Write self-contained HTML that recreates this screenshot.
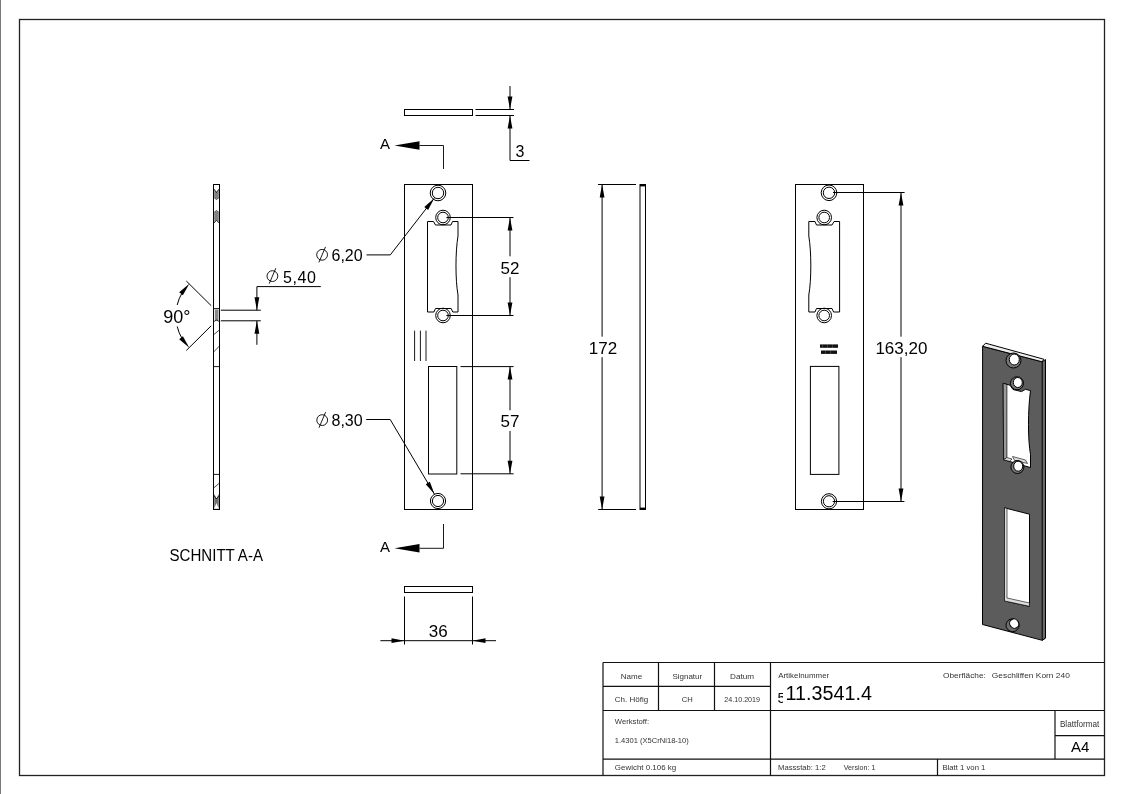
<!DOCTYPE html>
<html><head><meta charset="utf-8"><style>
html,body{margin:0;padding:0;background:#fff;width:1123px;height:794px;overflow:hidden}
svg{display:block;will-change:transform}
text{font-family:"Liberation Sans",sans-serif;fill:#000}
</style></head><body>
<svg width="1123" height="794" viewBox="0 0 1123 794">
<defs>
<path id="arr" d="M0,0 L-13,-2.4 L-13,2.4 Z" fill="#000"/>
</defs>
<rect x="0" y="0" width="1123" height="794" fill="#fff"/>
<line x1="0.5" y1="0" x2="0.5" y2="794" stroke="#7a7a7a" stroke-width="1"/>
<rect x="19.5" y="19.5" width="1085" height="756" fill="none" stroke="#222" stroke-width="1.3"/>

<!-- ========== top view bar + dim 3 ========== -->
<g fill="none" stroke="#000" stroke-width="1">
<rect x="404.5" y="109.5" width="68" height="6"/>
</g>
<g fill="none" stroke="#000" stroke-width="1">
<path d="M475.5,109.5H514M475.5,115.5H514M510,86V109.5M510,115.5V160.5H529.5"/>
</g>
<use href="#arr" transform="translate(510,109.5) rotate(90)"/>
<use href="#arr" transform="translate(510,115.5) rotate(-90)"/>
<text x="515.5" y="156.8" font-size="16">3</text>

<!-- section arrow top -->
<text x="380" y="148.5" font-size="15">A</text>
<path d="M394.5,145.5 L419.5,141.3 L419.5,149.7 Z" fill="#000"/>
<path d="M419.5,145.5H443.5V169" fill="none" stroke="#000" stroke-width="0.9"/>
<!-- section arrow bottom -->
<text x="380" y="551.8" font-size="15">A</text>
<path d="M394.5,548.3 L419.5,544.1 L419.5,552.5 Z" fill="#000"/>
<path d="M419.5,548.3H443.5V524" fill="none" stroke="#000" stroke-width="0.9"/>

<!-- ========== front view ========== -->
<g fill="none" stroke="#000" stroke-width="1">
<rect x="404.5" y="184.5" width="68" height="325"/>
<circle cx="438" cy="193" r="7.8"/><circle cx="438" cy="193" r="5.7"/>
<circle cx="443" cy="217.5" r="7.3"/><circle cx="443" cy="217.5" r="5.3"/>
<circle cx="443" cy="315.5" r="7.3"/><circle cx="443" cy="315.5" r="5.3"/>
<circle cx="438" cy="501" r="7.6"/><circle cx="438" cy="501" r="5.6"/>
<path d="M427.5,221.5H433.5L435.5,225H451L452.5,221.5H458V236C455.3,252 455.3,280 458,295V312H452.8L451.2,308.5H435.5L433.9,312H427.5Z"/>
<rect x="428.5" y="366.5" width="28.3" height="107.5"/>
<path d="M414.6,330.6V361M420.4,330.6V361M426,330.6V361" stroke-width="0.9"/>
</g>
<!-- dims front -->
<g fill="none" stroke="#000" stroke-width="1">
<path d="M446.4,217.5H513.5M446.4,315.5H513.5M510,217.5V256.3M510,277.2V315.5"/>
<path d="M460.5,366.6H513.6M460.5,473.8H513.6M510,366.6V410.3M510,431V473.8"/>
</g>
<use href="#arr" transform="translate(510,217.5) rotate(-90)"/>
<use href="#arr" transform="translate(510,315.5) rotate(90)"/>
<use href="#arr" transform="translate(510,366.6) rotate(-90)"/>
<use href="#arr" transform="translate(510,473.8) rotate(90)"/>
<text x="510" y="273.5" font-size="17" text-anchor="middle">52</text>
<text x="510" y="427.3" font-size="17" text-anchor="middle">57</text>

<!-- leaders -->
<g fill="none" stroke="#000" stroke-width="1">
<path d="M366.5,254.9H390.3L434.2,198.3"/>
<path d="M366.2,419.5H390.2L434.4,494.1"/>
<path d="M256.9,344.8V320.8M256.9,310.2V286.6H320.8"/>
<path d="M220.8,310.2H260.8M220.8,320.8H260.8"/>
</g>
<use href="#arr" transform="translate(434.2,198.3) rotate(-52.2)"/>
<use href="#arr" transform="translate(434.4,494.1) rotate(59.4)"/>
<use href="#arr" transform="translate(256.9,310.2) rotate(90)"/>
<use href="#arr" transform="translate(256.9,320.8) rotate(-90)"/>
<g fill="none" stroke="#000" stroke-width="0.9"><circle cx="322.1" cy="254.8" r="5.4"/><path d="M318.9,262.4L325.5,246.9"/></g>
<text x="331.5" y="261" font-size="16">6,20</text>
<g fill="none" stroke="#000" stroke-width="0.9"><circle cx="272.4" cy="276.1" r="5.4"/><path d="M269.2,283.7L275.8,268.2"/></g>
<text x="283" y="282.5" font-size="16" textLength="33" lengthAdjust="spacing">5,40</text>
<g fill="none" stroke="#000" stroke-width="0.9"><circle cx="322.2" cy="420.1" r="5.4"/><path d="M319.0,427.7L325.6,412.2"/></g>
<text x="331.5" y="426" font-size="16">8,30</text>

<!-- 90 deg -->
<g fill="none" stroke="#000" stroke-width="1">
<path d="M211.2,305.7L186.3,281M211.2,325.8L186.3,350.5"/>
<path d="M182,293A45.4,45.4 0 0 0 177.2,305M177.2,326.5A45.4,45.4 0 0 0 182,338.5"/>
</g>
<use href="#arr" transform="translate(189.3,283.8) rotate(-50.5)"/>
<use href="#arr" transform="translate(189.3,347.7) rotate(50.5)"/>
<text x="163.3" y="323" font-size="18">90°</text>

<!-- section strip -->
<g fill="#808080" stroke="none">
<path d="M214.2,189.5L216.5,192L218.8,189.5V197L216.5,199L214.2,197Z"/>
<path d="M214.2,213L216.5,211L218.8,213V222.5L216.5,220.5L214.2,222.5Z"/>
<path d="M214.2,494L216.5,498.5L218.8,494V508.5H214.2Z" fill="#707070"/>
<path d="M214.8,309.5H218.5V321H214.8Z" fill="#8a8a8a"/>
</g>
<path d="M214.2,508.5L216.5,503L218.8,508.5Z" fill="#fff"/>
<g fill="none" stroke="#000" stroke-width="1">
<rect x="213.5" y="184.5" width="6" height="325"/>
<path d="M213.5,474.4H219.5M213.5,366.6H219.5M213.5,308.6H219.5" stroke-width="0.9"/>
</g>
<g fill="none" stroke="#000" stroke-width="0.7">
<path d="M214,189L216.5,192.5L219,189M214,197.5L216.5,199.5L219,197.5M214,212.5L216.5,210.5L219,212.5M214,223L216.5,220.5L219,223"/>
<path d="M213.6,334.8L219.6,329.8M213.6,352L219.6,345.9M213.6,495L216.5,499L219.6,495M213.6,488L219.6,483"/>
<path d="M214,321.5L216.5,320L219,321.5"/>
</g>
<text x="169.5" y="560.8" font-size="16" textLength="93.5" lengthAdjust="spacingAndGlyphs">SCHNITT A-A</text>

<!-- bottom bar + dim 36 -->
<g fill="none" stroke="#000" stroke-width="1">
<rect x="404.5" y="586.5" width="68" height="6"/>
</g>
<g fill="none" stroke="#000" stroke-width="1">
<path d="M404.5,596.5V644.5M472.5,596.5V644.5M380.4,640.7H496"/>
</g>
<use href="#arr" transform="translate(404.5,640.7)"/>
<use href="#arr" transform="translate(472.5,640.7) rotate(180)"/>
<text x="438.2" y="637" font-size="17" text-anchor="middle">36</text>

<!-- ========== side view ========== -->
<g fill="none" stroke="#000" stroke-width="1">
<rect x="640" y="184.5" width="5.5" height="325"/>
</g>
<g fill="none" stroke="#000" stroke-width="1">
<path d="M598,184.5H636M598.2,509.5H636M602.1,184.5V336.7M602.1,357.2V509.5"/>
</g>
<use href="#arr" transform="translate(602.1,184.5) rotate(-90)"/>
<use href="#arr" transform="translate(602.1,509.5) rotate(90)"/>
<text x="603" y="354" font-size="17" text-anchor="middle">172</text>

<rect x="640" y="184" width="5.5" height="2.4" fill="#000"/><rect x="640" y="507.6" width="5.5" height="2.4" fill="#000"/>
<!-- ========== right view ========== -->
<g fill="none" stroke="#000" stroke-width="1">
<rect x="795.5" y="184.5" width="68" height="325"/>
<circle cx="829" cy="192.8" r="7.8"/><circle cx="829" cy="192.8" r="5.7"/>
<circle cx="824.2" cy="217.5" r="7.3"/><circle cx="824.2" cy="217.5" r="5.3"/>
<circle cx="824.2" cy="315.5" r="7.3"/><circle cx="824.2" cy="315.5" r="5.3"/>
<circle cx="829" cy="501.3" r="7.6"/><circle cx="829" cy="501.3" r="5.6"/>
<path d="M839.6,221.5H834L832,225H816.5L815,221.5H808.8V236C811.5,252 811.5,280 808.8,295V312H815L816.5,308.5H832L833.6,312H839.6Z"/>
<rect x="810.4" y="366.4" width="28.5" height="108"/>
</g>
<g fill="none" stroke="#000" stroke-width="1">
<path d="M833,192.5H904.6M832.7,501.5H904.4M901,192.5V336.7M901,357.2V501.5"/>
</g>
<use href="#arr" transform="translate(901,192.5) rotate(-90)"/>
<use href="#arr" transform="translate(901,501.5) rotate(90)"/>
<text x="901.4" y="354" font-size="17" text-anchor="middle">163,20</text>
<g fill="#111"><rect x="820" y="344.4" width="18" height="3.4"/><rect x="821" y="350.5" width="16" height="3.4"/></g><g fill="#fff" opacity="0.35"><rect x="822.3" y="344.4" width="0.5" height="3.4"/><rect x="827" y="344.4" width="0.5" height="3.4"/><rect x="832.5" y="344.4" width="0.5" height="3.4"/><rect x="825" y="350.5" width="0.5" height="3.4"/><rect x="830" y="350.5" width="0.5" height="3.4"/></g>

<!-- ========== isometric ========== -->
<g stroke="#000" stroke-width="1" stroke-linejoin="round">
<path d="M982.6,346.3L1042.2,361.8L1045.5,361L1045.5,638L1042.2,640.3L982.5,624.5Z" fill="#5c5c5c"/>
<path d="M982.6,346.3L985.6,343.2L1043.7,359.2L1042.2,361.8Z" fill="#eee"/>
<path d="M1042.2,361.8L1045.5,359.5L1045.5,638L1042.2,640.3Z" fill="#6a6a6a"/>
<ellipse cx="1013.5" cy="360.5" rx="7.5" ry="7.5" fill="#777"/>
<ellipse cx="1014.3" cy="359.5" rx="5" ry="5.5" fill="#fff"/>
<ellipse cx="1017" cy="383.3" rx="6.5" ry="6.5" fill="#777"/>
<ellipse cx="1017.8" cy="382.5" rx="4.5" ry="5" fill="#fff"/>
<path d="M1003.2,383.2L1010,385.2L1013,389.5L1021.5,391.6L1025.4,389.3L1030.5,390.6C1027.8,410 1027.8,440 1030.5,454.4L1030.5,467.6L1003.6,459.7Z" fill="#fff"/>
<path d="M1003.2,383.2L1006.9,384.5L1006.9,457.6L1003.6,459.7Z" fill="#9a9a9a" stroke-width="0.7"/>
<path d="M1003.6,459.7L1006.9,457.6L1012,459L1009.5,461.3Z" fill="#ddd" stroke-width="0.6"/>
<path d="M1012.5,456.5L1025.5,460L1027.5,463.5L1014.5,460.3Z" fill="#ddd" stroke-width="0.6"/>
<ellipse cx="1017.4" cy="467" rx="6.5" ry="6.5" fill="#777"/>
<ellipse cx="1018.2" cy="466.2" rx="4.5" ry="5" fill="#fff"/>
<path d="M1004.5,507.8L1029.5,514.2L1029.5,606.3L1004.5,600.9Z" fill="#fff"/>
<path d="M1004.5,507.8L1007,508.4L1007,598L1029.5,603L1029.5,606.3L1004.5,600.9Z" fill="#ddd" stroke-width="0.6"/>
<ellipse cx="1012.6" cy="625.2" rx="6.6" ry="6.4" fill="#6e6e6e"/>
<ellipse cx="1014.2" cy="623.6" rx="4.4" ry="4.8" fill="#fff" transform="rotate(-30 1014.2 623.6)"/>
</g>

<!-- ========== title block ========== -->
<g fill="none" stroke="#111" stroke-width="1.2">
<path d="M603,662.5H1104.5M603,662.5V775.5M658.5,662.5V710.5M714.5,662.5V710.5M770.5,662.5V775.5M603,686.3H770.5M603,710.5H1104.5M603,759.2H1104.5M1055,710.5V759.2M1055,735.6H1104.5M937.5,759.2V775.5"/>
</g>
<g font-size="8" fill="#333" style="fill:#333">
<text x="631.5" y="679" text-anchor="middle" style="fill:#333">Name</text>
<text x="687.3" y="679" text-anchor="middle" style="fill:#333">Signatur</text>
<text x="742" y="678.5" text-anchor="middle" textLength="24" lengthAdjust="spacingAndGlyphs" style="fill:#333">Datum</text>
<text x="631.5" y="702" text-anchor="middle" style="fill:#333">Ch. Höfig</text>
<text x="687.3" y="702" text-anchor="middle" textLength="11" lengthAdjust="spacingAndGlyphs" style="fill:#333">CH</text>
<text x="724.3" y="702" textLength="35.7" lengthAdjust="spacingAndGlyphs" style="fill:#333">24.10.2019</text>
<text x="778.2" y="678" textLength="51" lengthAdjust="spacingAndGlyphs" style="fill:#333">Artikelnummer</text>
<text x="943" y="678" textLength="42.8" lengthAdjust="spacingAndGlyphs" style="fill:#333">Oberfläche:</text>
<text x="991.8" y="678" textLength="78" lengthAdjust="spacingAndGlyphs" style="fill:#333">Geschliffen Korn 240</text>
<text x="614.8" y="724" textLength="34.3" lengthAdjust="spacingAndGlyphs" style="fill:#333">Werkstoff:</text>
<text x="614.8" y="742.5" textLength="74" lengthAdjust="spacingAndGlyphs" style="fill:#333">1.4301 (X5CrNi18-10)</text>
<text x="614.8" y="769.5" textLength="61.4" lengthAdjust="spacingAndGlyphs" style="fill:#333">Gewicht 0.106 kg</text>
<text x="778.1" y="770.3" textLength="47.6" lengthAdjust="spacingAndGlyphs" style="fill:#333">Massstab: 1:2</text>
<text x="843.7" y="770.3" textLength="31.7" lengthAdjust="spacingAndGlyphs" style="fill:#333">Version: 1</text>
<text x="942.4" y="770.3" textLength="43" lengthAdjust="spacingAndGlyphs" style="fill:#333">Blatt 1 von 1</text>
<text x="1059.9" y="726.8" font-size="8.5" textLength="39.4" lengthAdjust="spacingAndGlyphs" style="fill:#333">Blattformat</text>
</g>
<text x="777.5" y="702.6" font-size="14.5">5</text>
<rect x="783" y="683" width="92" height="21" fill="#fff"/>
<text x="785.6" y="700" font-size="19.5" textLength="86.3" lengthAdjust="spacingAndGlyphs">11.3541.4</text>
<text x="1080.3" y="751.8" font-size="15" text-anchor="middle">A4</text>
</svg>
</body></html>
